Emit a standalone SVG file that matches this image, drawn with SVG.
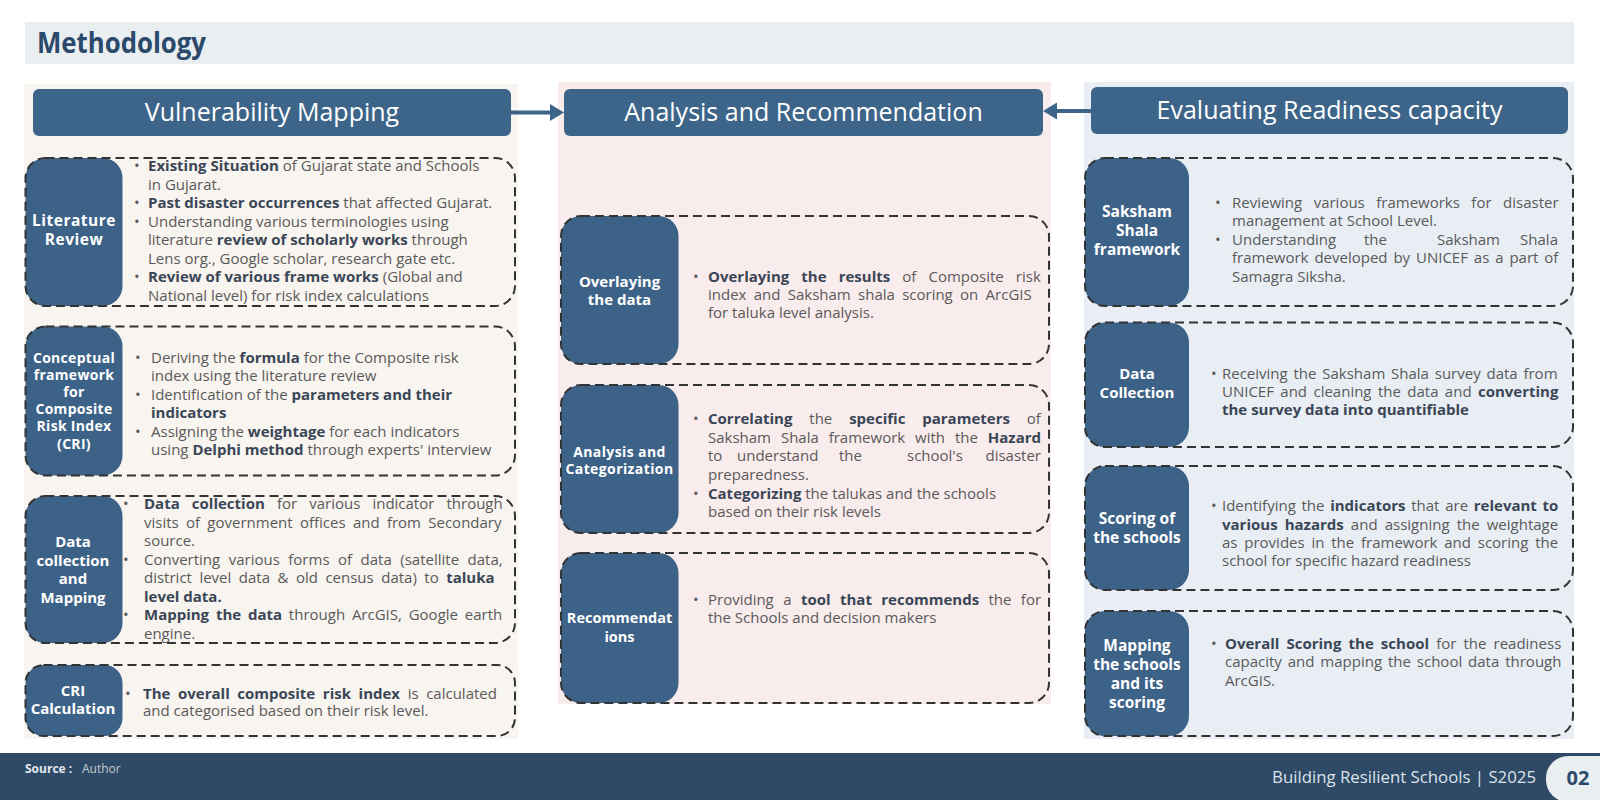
<svg xmlns="http://www.w3.org/2000/svg" width="1600" height="800" viewBox="0 0 1600 800">
<defs>
<style>
.t{font-family:'Open Sans','Liberation Sans',sans-serif;font-size:15px;fill:#5a5a5a}
.k{font-weight:700;fill:#3a4656}
.lab{font-family:'Open Sans','Liberation Sans',sans-serif;font-weight:700;font-size:15.5px;fill:#ffffff;text-anchor:middle}
.sm{font-size:14px;letter-spacing:0.4px}
.hd{font-family:'Open Sans','Liberation Sans',sans-serif;font-size:25px;fill:#ffffff;text-anchor:middle}
.dash{fill:none;stroke:#333333;stroke-width:2;stroke-dasharray:9 5}
.nd{fill:#3d6288}
.hb{fill:#3d6489}
</style>
</defs>
<rect width="1600" height="800" fill="#ffffff"/>
<rect x="25" y="22" width="1549" height="42" fill="#e9eef0"/>
<text x="37" y="53" font-family="'Open Sans','Liberation Sans',sans-serif" font-weight="700" font-size="28" fill="#2b4a6b" textLength="169" lengthAdjust="spacingAndGlyphs">Methodology</text>
<rect x="24" y="84" width="494" height="655" fill="#f8f4ef"/>
<rect x="558" y="82" width="493" height="622" fill="#f9ecec"/>
<rect x="1084" y="82" width="490" height="657" fill="#e8eef4"/>
<g id="h-vm"><rect class="hb" x="33" y="89" width="478" height="47" rx="6"/><text class="hd" x="272" y="121">Vulnerability Mapping</text></g>
<g id="h-ar"><rect class="hb" x="564" y="89" width="479" height="47" rx="6"/><text class="hd" x="803.5" y="121">Analysis and Recommendation</text></g>
<g id="h-er"><rect class="hb" x="1091" y="87" width="477" height="47" rx="6"/><text class="hd" x="1329.5" y="119">Evaluating Readiness capacity</text></g>
<g id="connectors">
<line x1="511" y1="112.5" x2="552" y2="112.5" stroke="#3d6489" stroke-width="4"/>
<polygon points="550,104 564,112.5 550,121" fill="#3d6489"/>
<line x1="1091" y1="111" x2="1055" y2="111" stroke="#3d6489" stroke-width="4"/>
<polygon points="1057,102.5 1043,111 1057,119.5" fill="#3d6489"/>
</g>
<g id="lit-review">
<rect class="nd" x="25.5" y="158" width="97" height="148" rx="20"/>
<rect class="dash" x="25.5" y="158" width="489.5" height="148" rx="20"/>
<text class="lab" x="74" y="226" letter-spacing="0.5">Literature</text>
<text class="lab" x="74" y="245" letter-spacing="0.5">Review</text>
<text class="t" x="134" y="171">•</text><text class="t" x="134" y="208">•</text><text class="t" x="134" y="226.5">•</text><text class="t" x="134" y="282">•</text>
<text class="t" x="148" y="171"><tspan class="k">Existing Situation</tspan> of Gujarat state and Schools</text>
<text class="t" x="148" y="189.5">in Gujarat.</text>
<text class="t" x="148" y="208"><tspan class="k">Past disaster occurrences</tspan> that affected Gujarat.</text>
<text class="t" x="148" y="226.5">Understanding various terminologies using</text>
<text class="t" x="148" y="245">literature <tspan class="k">review of scholarly works</tspan> through</text>
<text class="t" x="148" y="263.5">Lens org., Google scholar, research gate etc.</text>
<text class="t" x="148" y="282"><tspan class="k">Review of various frame works</tspan> (Global and</text>
<text class="t" x="148" y="300.5">National level) for risk index calculations</text>
</g>
<g id="cri-framework">
<rect class="nd" x="25.5" y="326.5" width="97" height="149" rx="20"/>
<rect class="dash" x="25.5" y="326.5" width="489.5" height="149" rx="20"/>
<text class="lab" style="font-size:14px;letter-spacing:0.3px" x="74" y="362.5">Conceptual</text>
<text class="lab" style="font-size:14px;letter-spacing:0.3px" x="74" y="379.7">framework</text>
<text class="lab" style="font-size:14px;letter-spacing:0.3px" x="74" y="396.9">for</text>
<text class="lab" style="font-size:14px;letter-spacing:0.3px" x="74" y="414.1">Composite</text>
<text class="lab" style="font-size:14px;letter-spacing:0.3px" x="74" y="431.3">Risk Index</text>
<text class="lab" style="font-size:14px;letter-spacing:0.3px" x="74" y="448.5">(CRI)</text>
<text class="t" x="135" y="363">•</text><text class="t" x="135" y="399.8">•</text><text class="t" x="135" y="436.6">•</text>
<text class="t" x="151" y="363">Deriving the <tspan class="k">formula</tspan> for the Composite risk</text>
<text class="t" x="151" y="381.4">index using the literature review</text>
<text class="t" x="151" y="399.8">Identification of the <tspan class="k">parameters and their</tspan></text>
<text class="t" x="151" y="418.2"><tspan class="k">indicators</tspan></text>
<text class="t" x="151" y="436.6">Assigning the <tspan class="k">weightage</tspan> for each indicators</text>
<text class="t" x="151" y="455">using <tspan class="k">Delphi method</tspan> through experts' interview</text>
</g>
<g id="data-mapping">
<rect class="nd" x="25.5" y="496" width="97" height="147" rx="20"/>
<rect class="dash" x="25.5" y="496" width="489.5" height="147" rx="20"/>
<text class="lab" style="font-size:15px" x="73" y="547">Data</text>
<text class="lab" style="font-size:15px" x="73" y="565.5">collection</text>
<text class="lab" style="font-size:15px" x="73" y="584">and</text>
<text class="lab" style="font-size:15px" x="73" y="602.5">Mapping</text>
<text class="t" x="123" y="509">•</text><text class="t" x="123" y="564.5">•</text><text class="t" x="123" y="620">•</text>
<text class="t" x="144" y="509" word-spacing="8.2"><tspan class="k">Data collection</tspan> for various indicator through</text>
<text class="t" x="144" y="527.5" word-spacing="3.4">visits of government offices and from Secondary</text>
<text class="t" x="144" y="546">source.</text>
<text class="t" x="144" y="564.5" word-spacing="4.6">Converting various forms of data (satellite data,</text>
<text class="t" x="144" y="583" word-spacing="3.6">district level data &amp; old census data) to <tspan class="k">taluka</tspan></text>
<text class="t" x="144" y="601.5"><tspan class="k">level data.</tspan></text>
<text class="t" x="144" y="620" word-spacing="2.9"><tspan class="k">Mapping the data</tspan> through ArcGIS, Google earth</text>
<text class="t" x="144" y="638.5">engine.</text>
</g>
<g id="cri-calc">
<rect class="nd" x="25.5" y="665" width="97" height="71" rx="18"/>
<rect class="dash" x="25.5" y="665" width="489.5" height="71" rx="18"/>
<text class="lab" style="font-size:15px" x="73" y="695.5">CRI</text>
<text class="lab" style="font-size:15px" x="73" y="714">Calculation</text>
<text class="t" x="125" y="699">•</text>
<text class="t" x="143" y="699" word-spacing="3.7"><tspan class="k">The overall composite risk index</tspan> is calculated</text>
<text class="t" x="143" y="716">and categorised based on their risk level.</text>
</g>
<g id="overlay">
<rect class="nd" x="561" y="216" width="117.5" height="148" rx="20"/>
<rect class="dash" x="561" y="216" width="488" height="148" rx="20"/>
<text class="lab" style="font-size:15px" x="619.5" y="286.5">Overlaying</text>
<text class="lab" style="font-size:15px" x="619.5" y="305">the data</text>
<text class="t" x="693" y="281.5">•</text>
<text class="t" x="708" y="281.5" word-spacing="8.2"><tspan class="k">Overlaying the results</tspan> of Composite risk</text>
<text class="t" x="708" y="300" word-spacing="3.4">index and Saksham shala scoring on ArcGIS</text>
<text class="t" x="708" y="318">for taluka level analysis.</text>
</g>
<g id="analysis">
<rect class="nd" x="561" y="385" width="117.5" height="148" rx="20"/>
<rect class="dash" x="561" y="385" width="488" height="148" rx="20"/>
<text class="lab sm" x="619.5" y="456.5">Analysis and</text>
<text class="lab sm" x="619.5" y="474">Categorization</text>
<text class="t" x="693" y="424">•</text><text class="t" x="693" y="499">•</text>
<text class="t" x="708" y="424" word-spacing="13"><tspan class="k">Correlating</tspan> the <tspan class="k">specific parameters</tspan> of</text>
<text class="t" x="708" y="442.5" word-spacing="6">Saksham Shala framework with the <tspan class="k">Hazard</tspan></text>
<text class="t" x="708" y="461">to</text><text class="t" x="737" y="461">understand</text><text class="t" x="839" y="461">the</text><text class="t" x="907" y="461">school's</text><text class="t" x="1041" y="461" text-anchor="end">disaster</text>
<text class="t" x="708" y="479.5">preparedness.</text>
<text class="t" x="708" y="499"><tspan class="k">Categorizing</tspan> the talukas and the schools</text>
<text class="t" x="708" y="517">based on their risk levels</text>
</g>
<g id="recommend">
<rect class="nd" x="561" y="553" width="117.5" height="150" rx="20"/>
<rect class="dash" x="561" y="553" width="488" height="150" rx="20"/>
<text class="lab" style="font-size:14.5px" x="619.5" y="623">Recommendat</text>
<text class="lab" style="font-size:14.5px" x="619.5" y="642">ions</text>
<text class="t" x="693" y="605">•</text>
<text class="t" x="708" y="605" word-spacing="5.5">Providing a <tspan class="k">tool that recommends</tspan> the for</text>
<text class="t" x="708" y="623">the Schools and decision makers</text>
</g>
<g id="saksham">
<rect class="nd" x="1085" y="158" width="104" height="148" rx="20"/>
<rect class="dash" x="1085" y="158" width="488" height="148" rx="20"/>
<text class="lab" x="1137" y="217">Saksham</text>
<text class="lab" x="1137" y="236">Shala</text>
<text class="lab" x="1137" y="255">framework</text>
<text class="t" x="1215" y="208">•</text><text class="t" x="1215" y="244.8">•</text>
<text class="t" x="1232" y="208" word-spacing="7.6">Reviewing various frameworks for disaster</text>
<text class="t" x="1232" y="226.4">management at School Level.</text>
<text class="t" x="1232" y="244.8">Understanding</text><text class="t" x="1364" y="244.8">the</text><text class="t" x="1437" y="244.8">Saksham</text><text class="t" x="1558" y="244.8" text-anchor="end">Shala</text>
<text class="t" x="1232" y="263.2" word-spacing="2">framework developed by UNICEF as a part of</text>
<text class="t" x="1232" y="281.6">Samagra Siksha.</text>
</g>
<g id="data-collection">
<rect class="nd" x="1085" y="322.5" width="104" height="124.5" rx="20"/>
<rect class="dash" x="1085" y="322.5" width="488" height="124.5" rx="20"/>
<text class="lab" style="font-size:15px" x="1137" y="378.5">Data</text>
<text class="lab" style="font-size:15px" x="1137" y="397.5">Collection</text>
<text class="t" x="1211" y="378.5">•</text>
<text class="t" x="1222" y="378.5" word-spacing="1.9">Receiving the Saksham Shala survey data from</text>
<text class="t" x="1222" y="397" word-spacing="2.5">UNICEF and cleaning the data and <tspan class="k">converting</tspan></text>
<text class="t" x="1222" y="415"><tspan class="k">the survey data into quantifiable</tspan></text>
</g>
<g id="scoring">
<rect class="nd" x="1085" y="466" width="104" height="124" rx="20"/>
<rect class="dash" x="1085" y="466" width="488" height="124" rx="20"/>
<text class="lab" x="1137" y="523.5">Scoring of</text>
<text class="lab" x="1137" y="542.5">the schools</text>
<text class="t" x="1211" y="511">•</text>
<text class="t" x="1222" y="511" word-spacing="1.8">Identifying the <tspan class="k">indicators</tspan> that are <tspan class="k">relevant to</tspan></text>
<text class="t" x="1222" y="529.5" word-spacing="3.2"><tspan class="k">various hazards</tspan> and assigning the weightage</text>
<text class="t" x="1222" y="548" word-spacing="2.9">as provides in the framework and scoring the</text>
<text class="t" x="1222" y="566">school for specific hazard readiness</text>
</g>
<g id="mapping-schools">
<rect class="nd" x="1085" y="611" width="104" height="125" rx="20"/>
<rect class="dash" x="1085" y="611" width="488" height="125" rx="20"/>
<text class="lab" x="1137" y="651">Mapping</text>
<text class="lab" x="1137" y="670">the schools</text>
<text class="lab" x="1137" y="689">and its</text>
<text class="lab" x="1137" y="708">scoring</text>
<text class="t" x="1211" y="649">•</text>
<text class="t" x="1225" y="649" word-spacing="3.2"><tspan class="k">Overall Scoring the school</tspan> for the readiness</text>
<text class="t" x="1225" y="667" word-spacing="2">capacity and mapping the school data through</text>
<text class="t" x="1225" y="686">ArcGIS.</text>
</g>
<rect x="0" y="753" width="1600" height="47" fill="#2e4a67"/>
<rect x="1546" y="756" width="80" height="46" rx="22" fill="#e9eef1"/>
<text x="25" y="773" font-family="'Open Sans','Liberation Sans',sans-serif" font-size="12" font-weight="700" fill="#e3e8ee">Source :</text>
<text x="82" y="773" font-family="'Open Sans','Liberation Sans',sans-serif" font-size="12" fill="#c4c8cc">Author</text>
<text x="1536" y="783" text-anchor="end" font-family="'Open Sans','Liberation Sans',sans-serif" font-size="16.8" fill="#dde3e9">Building Resilient Schools | S2025</text>
<text x="1578" y="785" text-anchor="middle" font-family="'Open Sans','Liberation Sans',sans-serif" font-size="20" font-weight="700" fill="#2b4a6b">02</text>
</svg>
